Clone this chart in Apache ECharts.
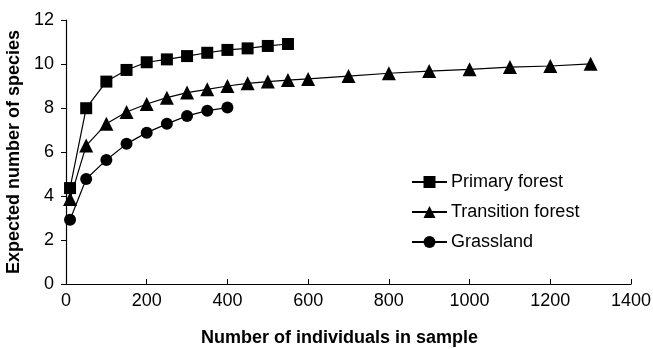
<!DOCTYPE html>
<html><head><meta charset="utf-8">
<script src="https://cdn.jsdelivr.net/npm/echarts@6/dist/echarts.min.js"></script>
<style>html,body{margin:0;padding:0;background:#fff}#c{width:653px;height:349px}</style>
</head><body><div id="c"></div>
<script>
const primaryX = [10, 50, 100, 150, 200, 250, 300, 350, 400, 450, 500, 550];
const primaryY = [4.36, 7.99, 9.2, 9.73, 10.08, 10.21, 10.36, 10.51, 10.64, 10.71, 10.82, 10.91];
const transitionX = [10, 50, 100, 150, 200, 250, 300, 350, 400, 450, 500, 550, 600, 700, 800, 900, 1000, 1100, 1200, 1300];
const transitionY = [3.86, 6.29, 7.28, 7.82, 8.18, 8.47, 8.7, 8.85, 9.0, 9.12, 9.2, 9.27, 9.32, 9.45, 9.58, 9.68, 9.76, 9.86, 9.91, 10.01];
const grassX = [10, 50, 100, 150, 200, 250, 300, 350, 400];
const grassY = [2.92, 4.77, 5.64, 6.37, 6.88, 7.28, 7.64, 7.88, 8.02];
const seriesNames = ['Primary forest', 'Transition forest', 'Grassland'];
const xTicks = [0, 200, 400, 600, 800, 1000, 1200, 1400];
const yTicks = [0, 2, 4, 6, 8, 10, 12];

const zip = (xs, ys) => xs.map((x, i) => [x, ys[i]]);
const font = 'Liberation Sans, Arial, sans-serif';
const chart = echarts.init(document.getElementById('c'));
const mk = (name, data, symbol, size) => ({
  name, type: 'line', data, symbol, symbolSize: size,
  lineStyle: {color: '#000', width: 1.2},
  itemStyle: {color: '#000', borderWidth: 0},
  emphasis: {disabled: true}, animation: false
});
chart.setOption({
  animation: false,
  grid: {left: 66, right: 22, top: 20, bottom: 65, containLabel: false, outerBoundsMode: 'none'},
  legend: {
    data: seriesNames, orient: 'vertical', left: 406, top: 168,
    itemWidth: 35, itemHeight: 15, itemGap: 12,
    textStyle: {fontFamily: font, fontSize: 18, color: '#000', padding: [0, 0, 0, -1]}
  },
  xAxis: {
    type: 'value', min: xTicks[0], max: xTicks[xTicks.length - 1], interval: 200,
    name: 'Number of individuals in sample', nameLocation: 'middle', nameGap: 45,
    nameTextStyle: {fontFamily: font, fontSize: 18, fontWeight: 'bold', color: '#000', padding: [0, 18, 0, 0]},
    axisLine: {lineStyle: {color: '#000', width: 1.2}},
    axisTick: {inside: true, length: 5, lineStyle: {color: '#000'}},
    axisLabel: {fontFamily: font, fontSize: 18, color: '#000', margin: 8, formatter: v => String(v)},
    splitLine: {show: false}
  },
  yAxis: {
    type: 'value', min: yTicks[0], max: yTicks[yTicks.length - 1], interval: 2,
    name: 'Expected number of species', nameLocation: 'middle', nameGap: 42,
    nameTextStyle: {fontFamily: font, fontSize: 18, fontWeight: 'bold', color: '#000'},
    axisLine: {show: true, lineStyle: {color: '#000', width: 1.2}},
    axisTick: {show: true, length: 5, lineStyle: {color: '#000'}},
    axisLabel: {fontFamily: font, fontSize: 18, color: '#000', margin: 12},
    splitLine: {show: false}
  },
  series: [
    mk(seriesNames[0], zip(primaryX, primaryY), 'rect', 12),
    mk(seriesNames[1], zip(transitionX, transitionY), 'triangle', 14),
    mk(seriesNames[2], zip(grassX, grassY), 'circle', 12)
  ]
});
</script></body></html>
